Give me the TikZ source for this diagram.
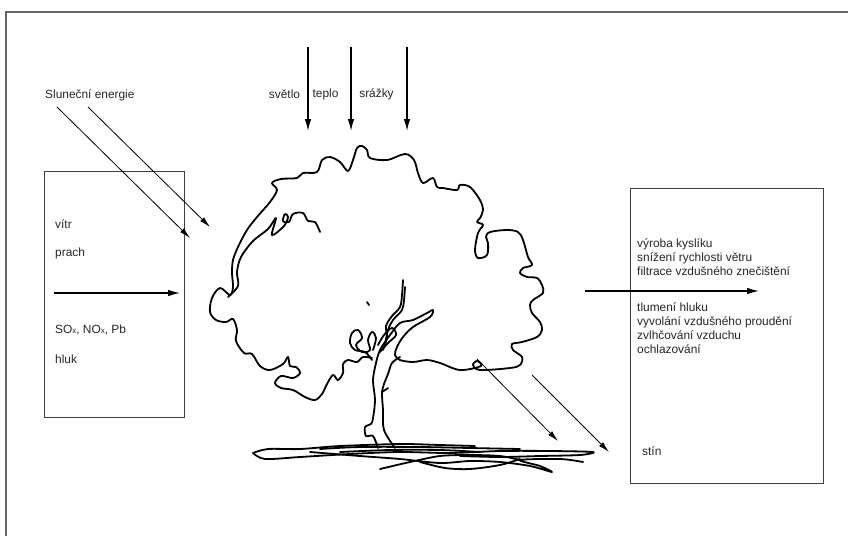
\documentclass[tikz,border=0pt]{standalone}
\usepackage{fontspec}
\setmainfont{Liberation Sans}
\usetikzlibrary{arrows.meta}
\begin{document}
\begin{tikzpicture}[x=1pt,y=-1pt,
  lbl/.style={font=\fontsize{11.9}{14}\selectfont, inner sep=0pt, anchor=west, text=black!85, align=left},
  clbl/.style={font=\fontsize{11.9}{14}\selectfont, inner sep=0pt, text=black!85},
  boxnode/.style={draw=black!75, line width=0.9pt, inner sep=0pt},
  arr/.style={line width=1.2pt, -{Latex[length=12pt,width=6.5pt]}},
  thinarr/.style={line width=0.8pt, -{Latex[length=11pt,width=5.5pt]}},
  tree/.style={line width=1.8pt, line cap=round, line join=round},
]
\useasboundingbox (0,0) rectangle (848,536);
% outer frame (only top and left edges visible)
\draw[black!60, line width=2.2pt] (6,536) -- (6,12) -- (848,12);

% boxes
\node[boxnode, minimum width=140pt, minimum height=246pt] (lbox) at (114,294) {};
\node[boxnode, minimum width=193pt, minimum height=295pt] (rbox) at (726.5,335.5) {};

% labels
\node[lbl] (sun) at (45,95) {Sluneční energie};
\node[lbl] (vitr) at (55,224) {vítr};
\node[lbl] (prach) at (55,253) {prach};
\node[lbl] (sox) at (55,330) {SO{\fontsize{8}{8}\selectfont x}, NO{\fontsize{8}{8}\selectfont x}, Pb};
\node[lbl] (hluk) at (55,359) {hluk};
\node[clbl] (svetlo) at (284.5,94) {světlo};
\node[clbl] (teplo) at (325.5,94) {teplo};
\node[clbl] (srazky) at (376.5,94) {srážky};
\node[lbl] (r1) at (637,257.5) {výroba kyslíku\\snížení rychlosti větru\\filtrace vzdušného znečištění};
\node[lbl] (r2) at (637,328) {tlumení hluku\\vyvolání vzdušného proudění\\zvlhčování vzduchu\\ochlazování};
\node[lbl] (stin) at (642,451) {stín};

% arrow end points
\coordinate (s1a) at (57,107);  \coordinate (s1b) at (190,238);
\coordinate (s2a) at (88,107);  \coordinate (s2b) at (210,227);
\coordinate (t1a) at (308,47);  \coordinate (t1b) at (308,131);
\coordinate (t2a) at (351,47);  \coordinate (t2b) at (351,131);
\coordinate (t3a) at (407,47);  \coordinate (t3b) at (407,131);
\coordinate (la) at (54,293);   \coordinate (lb) at (180,293);
\coordinate (ra) at (585,291);  \coordinate (rb) at (759,291);
\coordinate (sh1a) at (477,359); \coordinate (sh1b) at (558,441);
\coordinate (sh2a) at (532,375); \coordinate (sh2b) at (609,452);

\draw[thinarr] (s1a) -- (s1b);
\draw[thinarr] (s2a) -- (s2b);
\draw[arr] (t1a) -- (t1b);
\draw[arr] (t2a) -- (t2b);
\draw[arr] (t3a) -- (t3b);
\draw[arr] (la) -- (lb);
\draw[arr] (ra) -- (rb);
\draw[thinarr] (sh1a) -- (sh1b);
\draw[thinarr] (sh2a) -- (sh2b);

% tree crown
\draw[tree] plot[smooth, tension=0.55] coordinates {
(372,358) (363,357) (357,362) (348,360) (343,364) (343,373) (338,380) (333,375) (327,384) (322,394) (315,400) (305,397) (293,390) (281,388) (275,383) (281,376) (293,378) (300,373) (296,367) (290,366) (288,357) (283,364) (270,370) (260,366) (252,354) (244,353) (236,341) (237,330) (233,319) (226,322) (216,320) (210,312) (212,298) (220,288) (230,295) (233,287) (232,273) (233,260) (238,247) (247,230) (257,217) (270,202) (277,190) (272,183) (281,179) (297,178) (303,173) (317,172) (322,160) (330,157) (340,162) (348,171) (353,160) (357,148) (362,146) (367,150) (370,158) (387,160) (405,154) (414,160) (418,173) (423,183) (433,178) (437,187) (443,188) (457,190) (460,185) (470,187) (480,200) (483,210) (480,218) (477,222) (483,225) (478,233) (475,250) (478,258) (487,255) (488,243) (486,237) (490,232) (507,230) (518,232) (523,240) (528,257) (532,265) (523,268) (520,273) (527,277) (537,278) (542,285) (543,293) (533,300) (530,305) (532,313) (540,322) (542,330) (537,337) (522,342) (512,344) (513,350) (522,357) (520,365) (510,368) (480,370) (473,365) (477,361) (481,366) (460,370) (440,363) (427,360) (413,362) (400,360) (395,355) (397,347) (403,337) (413,327) (430,317) (433,310) (427,313) (413,320) (400,323) (390,335) (380,350) (376,363)};
% inner strand along left edge
\draw[tree] plot[smooth, tension=0.55] coordinates {
(228,297) (238,286) (237,272) (241,257) (253,241) (268,229) (276,218) (272,235) (284,226) (288,217) (285,214) (283,221) (289,222) (293,214) (303,213) (308,221) (315,222) (320,232)};
% trunk
\draw[tree] plot[smooth, tension=0.55] coordinates {
(376,363) (373,380) (375,400) (373,418) (371,424) (365,427) (366,436) (373,436) (378,448)};
\draw[tree] plot[smooth, tension=0.55] coordinates {
(395,448) (384,430) (383,410) (382,393) (384,384) (388,374) (392,363) (400,357)};
\draw[tree] (382,392) -- (388,388);
% upper strands
\draw[tree] plot[smooth, tension=0.55] coordinates {
(403,280) (402,295) (400,307) (392,316) (386,326) (387,337) (383,350)};
\draw[tree] plot[smooth, tension=0.55] coordinates {
(405,287) (404,300) (402,310) (393,320) (388,330) (385,345)};
% small loops
\draw[tree] plot[smooth, tension=0.6] coordinates {
(372,360) (365,352) (355,350) (350,343) (352,333) (358,330) (362,338) (356,345) (362,352) (370,350) (368,340) (372,332) (376,338) (373,350)};
\draw[tree] plot[smooth, tension=0.6] coordinates {
(378,345) (384,335) (392,328) (396,335) (388,343) (380,352)};
\draw[tree] (367,302) -- (369,305);
% ground
\draw[tree] plot[smooth, tension=0.5] coordinates {
(253,453) (268,449) (300,449) (340,446) (400,444) (440,445) (475,446)};
\draw[tree] plot[smooth, tension=0.5] coordinates {
(253,453) (265,459) (300,457) (350,454) (400,452) (450,453) (500,451) (550,451) (593,452) (580,455) (540,456) (500,457) (460,456)};
\draw[tree] plot[smooth, tension=0.5] coordinates {
(310,452) (360,456) (400,459) (440,463) (470,461) (500,462) (530,466) (552,472) (540,466) (520,460) (560,459) (583,462)};
\draw[tree] plot[smooth, tension=0.5] coordinates {
(380,469) (410,462) (440,456) (470,455) (500,456) (520,460)};
\draw[tree] plot[smooth, tension=0.5] coordinates {
(420,462) (445,468) (470,469) (500,465) (520,459)};
\draw[tree] plot[smooth, tension=0.5] coordinates {
(320,449) (360,447) (420,447) (470,448) (520,449)};
\draw[tree] plot[smooth, tension=0.5] coordinates {
(340,452) (390,450) (440,450) (480,452)};
\end{tikzpicture}
\end{document}
